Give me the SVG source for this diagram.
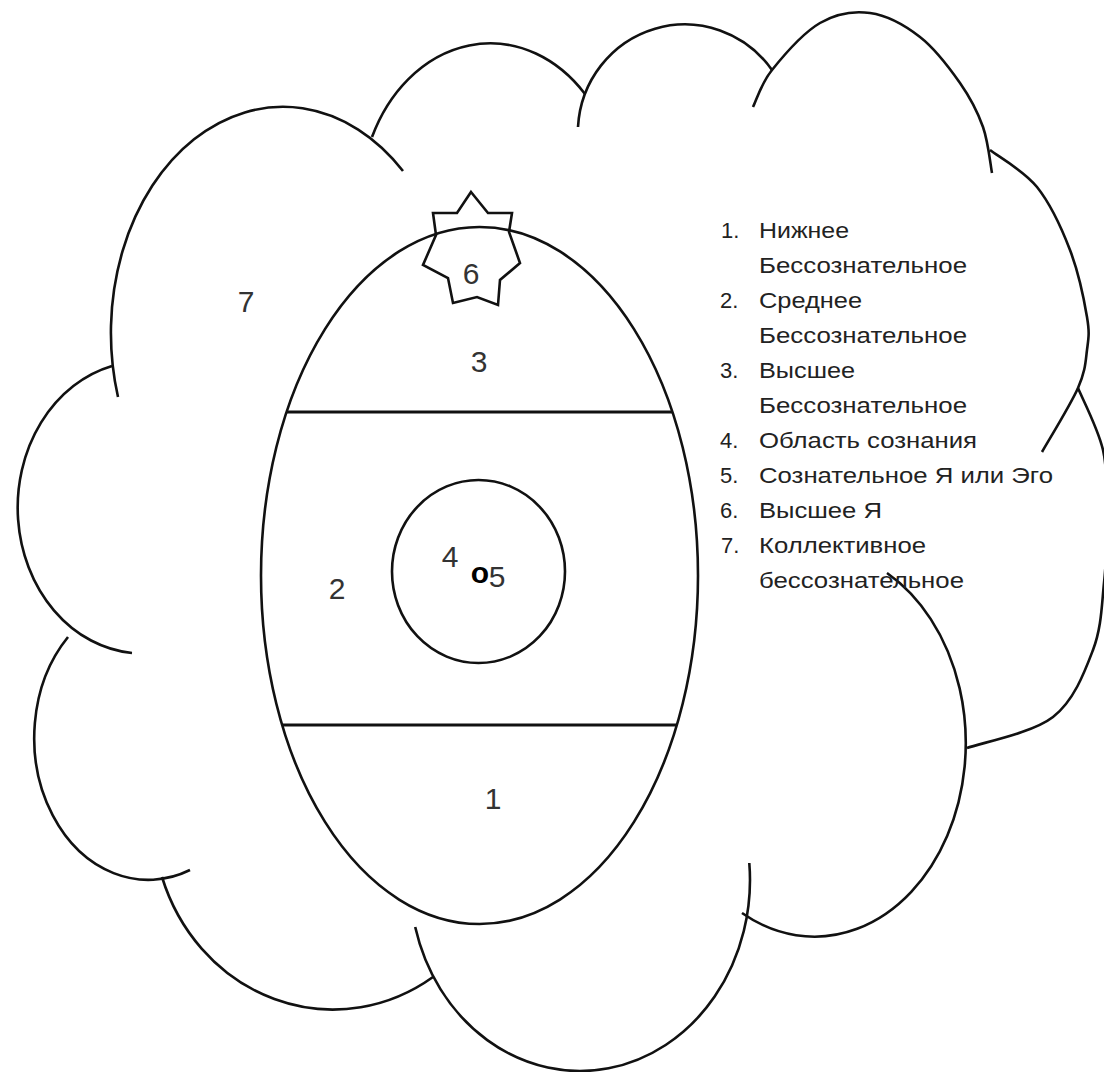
<svg xmlns="http://www.w3.org/2000/svg" width="1104" height="1072" viewBox="0 0 1104 1072">
<style>
.ln{fill:none;stroke:#111;stroke-width:2.6;stroke-linecap:butt}
.bar{fill:none;stroke:#111;stroke-width:3.2}
.num{font-family:"Liberation Sans",Arial,sans-serif;font-size:30px;fill:#333;text-anchor:middle}
.lg{font-family:"Liberation Sans",Arial,sans-serif;font-size:22px;fill:#222}
</style>
<rect width="1104" height="1072" fill="#fff"/>
<g id="cloud">
<path class="ln" d="M118,397 A172,226 0 0 1 403,171"/>
<path class="ln" d="M372,137 A130,160.5 0 0 1 585,94"/>
<path class="ln" d="M578,127 A107,108.6 0 0 1 772,70"/>
<path class="ln" d="M753,107 C756.2,100.8 760.8,84 772,70 C783.2,56 803.7,32.5 820,23 C836.3,13.5 853.3,10.7 870,13 C886.7,15.3 905,25.3 920,37 C935,48.7 949.5,68 960,83 C970.5,98 977.7,112 983,127 C988.3,142 990.5,165.3 992,173"/>
<path class="ln" d="M990,150 C997.8,156.2 1023.7,170.3 1037,187 C1050.3,203.7 1061.7,228.3 1070,250 C1078.3,271.7 1084.2,300.3 1087,317 C1089.8,333.7 1088.5,338.2 1087,350 C1085.5,361.8 1085.5,371 1078,388 C1070.5,405 1048,441.3 1042,452"/>
<path class="ln" d="M1078,388 C1082.2,398.3 1098.2,428.8 1103,450 C1107.8,471.2 1106.8,492.8 1107,515 C1107.2,537.2 1106.3,560.5 1104,583 C1101.7,605.5 1101.5,627.7 1093,650 C1084.5,672.3 1074,700.7 1053,717 C1032,733.3 981.3,742.8 967,748"/>
<path class="ln" d="M887,573 A150,192 0 0 1 742,913"/>
<path class="ln" d="M749.3,863 A170,191 0 0 1 415.2,927"/>
<path class="ln" d="M162,877 A180,193 0 0 0 433,977"/>
<path class="ln" d="M68,637 A114,142 0 0 0 190,870"/>
<path class="ln" d="M112,366 A125,146 0 0 0 132,653"/>
</g>
<g id="egg">
<ellipse class="ln" cx="479.5" cy="575.5" rx="218.5" ry="348.5"/>
<line class="bar" x1="287" y1="412" x2="672" y2="412"/>
<line class="bar" x1="283" y1="725" x2="677" y2="725"/>
</g>
<g id="consciousness">
<ellipse class="ln" cx="478.5" cy="571.5" rx="86.5" ry="91.5"/>
</g>
<g id="higher-self">
<polygon class="ln" stroke-width="3" stroke-linejoin="miter" points="471,192 488,213 512,213 509,232 520,263 500,280 498,305 477,297 453,303 448,278 423,265 436,235 433,213 457,213"/>
</g>
<g id="labels">
<text class="num" x="246" y="312">7</text>
<text class="num" x="471" y="284">6</text>
<text class="num" x="479" y="372">3</text>
<text class="num" x="337" y="599">2</text>
<text class="num" x="450" y="567">4</text>
<text class="num" x="480" y="583" style="fill:#000;font-weight:bold">o</text>
<text class="num" x="497" y="587">5</text>
<text class="num" x="493" y="809">1</text>
</g>
<g id="legend">
<text class="lg" x="721" y="238">1.</text>
<text class="lg" x="759" y="238" textLength="90" lengthAdjust="spacingAndGlyphs">Нижнее</text>
<text class="lg" x="759" y="273" textLength="208" lengthAdjust="spacingAndGlyphs">Бессознательное</text>
<text class="lg" x="720" y="308">2.</text>
<text class="lg" x="759" y="308" textLength="103" lengthAdjust="spacingAndGlyphs">Среднее</text>
<text class="lg" x="759" y="343" textLength="208" lengthAdjust="spacingAndGlyphs">Бессознательное</text>
<text class="lg" x="720" y="378">3.</text>
<text class="lg" x="759" y="378" textLength="96" lengthAdjust="spacingAndGlyphs">Высшее</text>
<text class="lg" x="759" y="413" textLength="208" lengthAdjust="spacingAndGlyphs">Бессознательное</text>
<text class="lg" x="720" y="448">4.</text>
<text class="lg" x="759" y="448" textLength="218" lengthAdjust="spacingAndGlyphs">Область сознания</text>
<text class="lg" x="720" y="483">5.</text>
<text class="lg" x="759" y="483" textLength="294" lengthAdjust="spacingAndGlyphs">Сознательное Я или Эго</text>
<text class="lg" x="720" y="518">6.</text>
<text class="lg" x="759" y="518" textLength="123" lengthAdjust="spacingAndGlyphs">Высшее Я</text>
<text class="lg" x="721" y="553">7.</text>
<text class="lg" x="759" y="553" textLength="167" lengthAdjust="spacingAndGlyphs">Коллективное</text>
<text class="lg" x="759" y="588" textLength="205" lengthAdjust="spacingAndGlyphs">бессознательное</text>
</g>
</svg>
